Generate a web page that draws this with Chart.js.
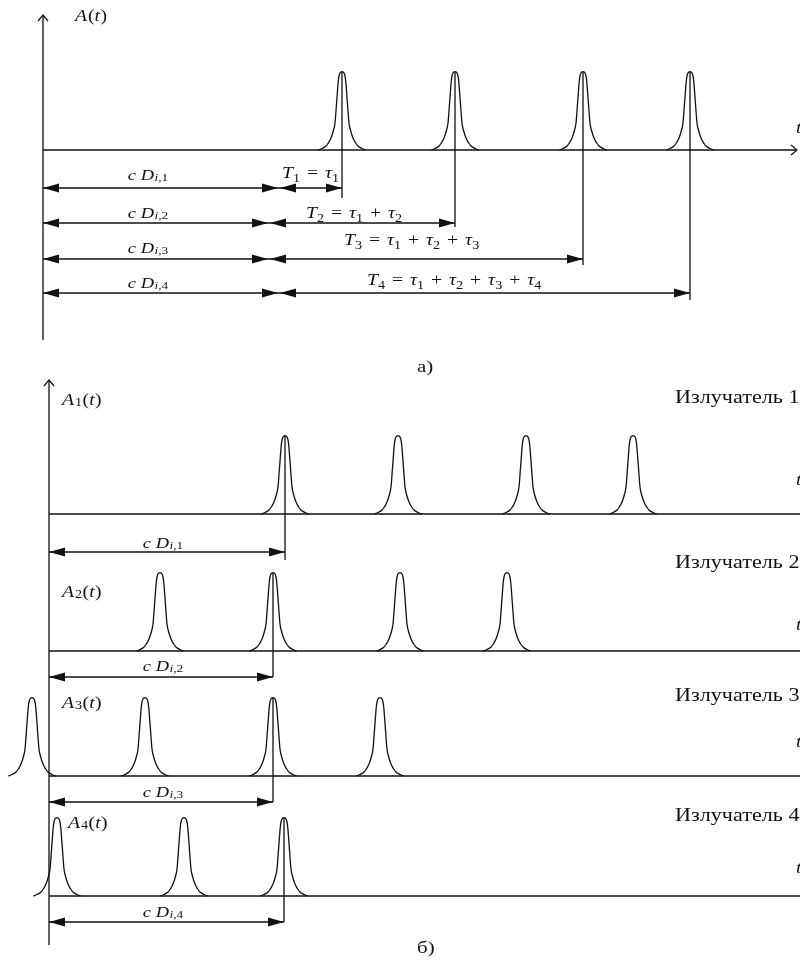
<!DOCTYPE html>
<html>
<head>
<meta charset="utf-8">
<script src="https://cdn.jsdelivr.net/npm/chart.js@4/dist/chart.umd.min.js"></script>
<style>
  html, body { margin: 0; padding: 0; background: #fff; }
  #wrap { width: 800px; height: 960px; }
</style>
</head>
<body>
<div id="wrap"><canvas id="pulseChart" width="800" height="960"></canvas></div>
<script>
// Pulse template: offset from centre and height above baseline
const pulseDx = [-23.7, -20, -16, -13.7, -11, -8.7, -7, -5.5, -3.7, -3, -2, -1, 0, 1, 2, 3, 3.7, 5.5, 7, 8.7, 11, 13.7, 16, 20, 23.7];
const pulseH = [0, 1.5, 4, 7, 12, 19, 27, 46, 69, 74, 77, 78, 78.3, 78, 77, 74, 69, 46, 27, 19, 12, 7, 4, 1.5, 0];

// Panel a): one receiver sees the four emitters in sequence
const topOrigin = 43;
const topBaseline = 150;
const topPulses = [342, 455, 583, 690];
const topArrowRows = [188, 223, 259, 293];
const topSplit = [279, 269, 269, 279];
const topTickEnd = [198, 227, 265, 300];

// Panel б): each emitter's own pulse train
const botOrigin = 49;
const rowBaseline = [514, 651, 776, 896];
const rowPulses = [
    [285, 398, 526, 633],
    [160, 273, 400, 507],
    [32, 145, 273, 380],
    [57, 184, 284]
];
const rowMarked = [0, 1, 2, 2];
const rowArrowY = [552, 677, 802, 922];
const rowTickEnd = [560, 677, 802, 922];
const rowNames = ['Излучатель 1', 'Излучатель 2', 'Излучатель 3', 'Излучатель 4'];

const INK = '#111';
const SERIF = '"Liberation Serif", "Times New Roman", serif';
const STRETCH = 1.23; // the source lettering is wider than plain Times

function line(points, width) {
    return {
        data: points,
        showLine: true,
        borderColor: INK,
        borderWidth: width || 1.3,
        pointRadius: 0,
        fill: false
    };
}

function pulse(center, base) {
    const pts = pulseDx.map((dx, i) => ({ x: center + dx, y: base - pulseH[i] }));
    const ds = line(pts, 1.3);
    ds.cubicInterpolationMode = 'monotone';
    return ds;
}

const peak = Math.max(...pulseH);
const datasets = [];

// axes
datasets.push(line([{ x: topOrigin, y: 15 }, { x: topOrigin, y: 340 }]));
datasets.push(line([{ x: topOrigin, y: topBaseline }, { x: 797, y: topBaseline }]));
datasets.push(line([{ x: botOrigin, y: 380 }, { x: botOrigin, y: 945 }]));

// panel a
topPulses.forEach((c, i) => {
    datasets.push(pulse(c, topBaseline));
    datasets.push(line([{ x: c, y: topBaseline - peak }, { x: c, y: topTickEnd[i] }]));
    datasets.push(line([{ x: topOrigin, y: topArrowRows[i] }, { x: c, y: topArrowRows[i] }]));
});

// panel б
rowBaseline.forEach((b, r) => {
    datasets.push(line([{ x: botOrigin, y: b }, { x: 800, y: b }]));
    rowPulses[r].forEach(c => datasets.push(pulse(c, b)));
    const m = rowPulses[r][rowMarked[r]];
    datasets.push(line([{ x: m, y: b - peak }, { x: m, y: rowTickEnd[r] }]));
    datasets.push(line([{ x: botOrigin, y: rowArrowY[r] }, { x: m, y: rowArrowY[r] }]));
});

// draw a run of text pieces (italic / subscript / small) starting at x
function rich(ctx, x, y, segs, size, align) {
    const fontFor = s => (s.it ? 'italic ' : '') + (s.sub || s.sm ? size * 0.72 : size) + 'px ' + SERIF;
    const widthOf = s => { ctx.font = fontFor(s); return ctx.measureText(s.t).width * STRETCH + (s.gap || 0); };
    const total = segs.reduce((a, s) => a + widthOf(s), 0);
    let cx = align === 'center' ? x - total / 2 : (align === 'right' ? x - total : x);
    segs.forEach(s => {
        const w = widthOf(s);
        const dy = s.sub ? size * 0.28 : (s.sm ? 1 : 0);
        ctx.save();
        ctx.translate(cx, y + dy);
        ctx.scale(STRETCH, 1);
        ctx.fillText(s.t, 0, 0);
        ctx.restore();
        cx += w;
    });
}

function arrowHead(ctx, tipX, tipY, dir) {
    const len = 16, half = 4.5;
    ctx.beginPath();
    ctx.moveTo(tipX, tipY);
    ctx.lineTo(tipX - dir * len, tipY - half);
    ctx.lineTo(tipX - dir * len, tipY + half);
    ctx.closePath();
    ctx.fill();
}

function cD(k) {
    return [{ t: 'c D', it: true, gap: 0.5 }, { t: 'i', it: true, sm: true }, { t: ',' + k, sm: true }];
}

function tLabel(k) {
    const op = t => ({ t: t, gap: 2 });
    const segs = [{ t: 'T', it: true }, { t: String(k), sub: true, gap: 2 }, op(' = ')];
    for (let j = 1; j <= k; j++) {
        if (j > 1) segs.push(op(' + '));
        segs.push({ t: 'τ', it: true }, { t: String(j), sub: true, gap: 2 });
    }
    return segs;
}

function aLabel(k) {
    const segs = [{ t: 'A', it: true, gap: 1 }];
    if (k) segs.push({ t: String(k), sm: true, gap: 0.5 });
    segs.push({ t: '(' }, { t: 't', it: true, gap: 0.5 }, { t: ')' });
    return segs;
}

const annotate = {
    id: 'annotate',
    afterDatasetsDraw(chart) {
        const { ctx, scales: { x, y } } = chart;
        const px = v => x.getPixelForValue(v);
        const py = v => y.getPixelForValue(v);
        ctx.save();
        ctx.fillStyle = INK;
        ctx.strokeStyle = INK;
        ctx.lineWidth = 1.2;
        ctx.textBaseline = 'alphabetic';

        // open arrow tips on the axes
        ctx.beginPath();
        ctx.moveTo(px(topOrigin) - 5, py(21)); ctx.lineTo(px(topOrigin), py(15)); ctx.lineTo(px(topOrigin) + 5, py(21));
        ctx.moveTo(px(791), py(topBaseline) - 5); ctx.lineTo(px(797), py(topBaseline)); ctx.lineTo(px(791), py(topBaseline) + 5);
        ctx.moveTo(px(botOrigin) - 5, py(386)); ctx.lineTo(px(botOrigin), py(380)); ctx.lineTo(px(botOrigin) + 5, py(386));
        ctx.stroke();

        // panel a arrows and labels
        const topTBase = [178, 218, 245, 285];
        const topTX = [282, 306, 344, 367];
        const topDBase = [180, 218, 253, 288];
        topArrowRows.forEach((r, i) => {
            const yy = py(r);
            arrowHead(ctx, px(topOrigin), yy, -1);
            arrowHead(ctx, px(topSplit[i]) - 1, yy, 1);
            arrowHead(ctx, px(topSplit[i]) + 1, yy, -1);
            arrowHead(ctx, px(topPulses[i]), yy, 1);
            rich(ctx, px(148), py(topDBase[i]), cD(i + 1), 15, 'center');
            rich(ctx, px(topTX[i]), py(topTBase[i]), tLabel(i + 1), 16);
        });
        rich(ctx, px(75), py(21), aLabel(0), 16);
        rich(ctx, px(796), py(133), [{ t: 't', it: true }], 16);
        rich(ctx, px(417), py(372), [{ t: 'а)' }], 17);

        // panel б arrows and labels
        const nameBase = [403, 568, 701, 821];
        const aBase = [405, 597, 708, 828];
        const aX = [62, 62, 62, 68];
        const dBase = [548, 671, 797, 917];
        const tBase = [485, 630, 747, 873];
        rowBaseline.forEach((b, r) => {
            const yy = py(rowArrowY[r]);
            const m = rowPulses[r][rowMarked[r]];
            arrowHead(ctx, px(botOrigin), yy, -1);
            arrowHead(ctx, px(m), yy, 1);
            rich(ctx, px(163), py(dBase[r]), cD(r + 1), 15, 'center');
            rich(ctx, px(aX[r]), py(aBase[r]), aLabel(r + 1), 16);
            rich(ctx, px(675), py(nameBase[r]), [{ t: rowNames[r] }], 18);
            rich(ctx, px(796), py(tBase[r]), [{ t: 't', it: true }], 16);
        });
        rich(ctx, px(417), py(953), [{ t: 'б)' }], 17);
        ctx.restore();
    }
};

new Chart(document.getElementById('pulseChart').getContext('2d'), {
    type: 'scatter',
    data: { datasets: datasets },
    options: {
        responsive: false,
        animation: false,
        devicePixelRatio: 1,
        events: [],
        layout: { padding: 0 },
        plugins: { legend: { display: false }, tooltip: { enabled: false } },
        scales: {
            x: { type: 'linear', min: 0, max: 800, display: false },
            y: { type: 'linear', min: 0, max: 960, reverse: true, display: false }
        }
    },
    plugins: [annotate]
});
</script>
</body>
</html>
